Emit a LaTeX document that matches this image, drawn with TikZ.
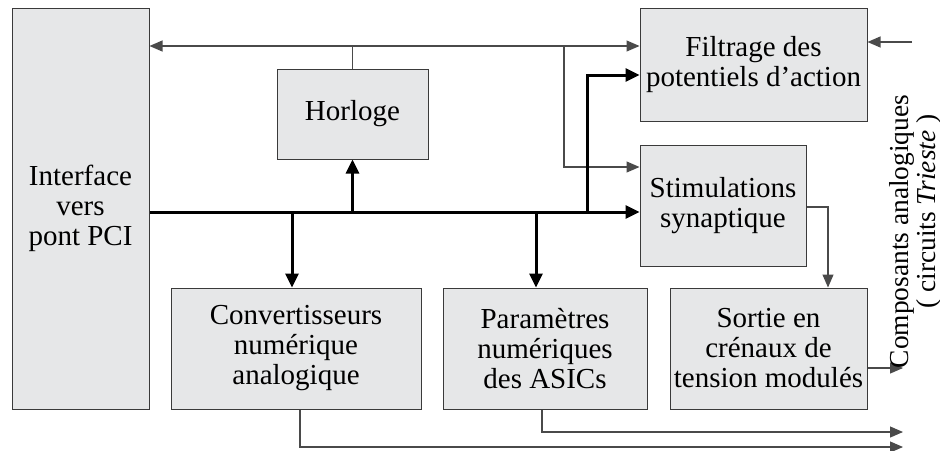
\documentclass[tikz,border=0pt]{standalone}
\usepackage{fontspec}
\setmainfont{Liberation Serif}
\usepackage{tikz}
\usetikzlibrary{arrows.meta}
\pgfdeclarelayer{edgelayer}
\pgfdeclarelayer{nodelayer}
\pgfsetlayers{edgelayer,nodelayer,main}
\definecolor{boxfill}{HTML}{E6E7E8}
\definecolor{boxline}{HTML}{3A3A3A}
\definecolor{wire}{HTML}{4A4A4A}
\tikzstyle{block}=[rectangle, fill=boxfill, draw=boxline, line width=0.5pt, inner sep=1pt, align=center, font=\fontsize{14.5}{15}\selectfont]
\tikzstyle{side}=[rotate=90, anchor=base, font=\fontsize{13.7}{15}\selectfont]
\tikzstyle{link}=[draw=wire, line width=0.55pt, -{Triangle[length=6.5pt,width=5.5pt]}]
\tikzstyle{bus}=[draw=black, line width=1.5pt, -{Triangle[length=7pt,width=6.5pt]}]

\begin{document}
\begin{tikzpicture}[x=25pt, y=25pt]
				\useasboundingbox (0, 0) rectangle (18.8, -9);
				\begin{pgfonlayer}{nodelayer}
					\node [style=block, minimum width=68.5pt, minimum height=200.5pt] (0) at (1.61, -4.17) {Interface\\vers\\pont PCI};
					\node [style=block, minimum width=75.5pt, minimum height=45pt] (1) at (7.05, -2.28) {Horloge};
					\node [style=block, minimum width=113.5pt, minimum height=56.5pt] (2) at (15.07, -1.29) {Filtrage des\\potentiels d'action};
					\node [style=block, minimum width=83pt, minimum height=60.5pt] (3) at (14.46, -4.11) {Stimulations\\synaptique};
					\node [style=block, minimum width=125pt, minimum height=60.5pt] (4) at (5.92, -6.97) {Convertisseurs\\numérique\\analogique};
					\node [style=block, minimum width=102pt, minimum height=60.5pt] (5) at (10.9, -6.97) {Paramètres\\numériques\\des ASICs};
					\node [style=block, minimum width=98.5pt, minimum height=60.5pt] (6) at (15.37, -6.97) {Sortie en\\crénaux de\\tension modulés};
					\node [style=side] (7) at (18.16, -4.63) {Composants analogiques};
					\node [style=side] (21) at (18.7, -4.23) {( circuits \textit{Trieste} )};
				\end{pgfonlayer}
				\coordinate (8) at (11.28, -0.92);
				\coordinate (9) at (11.28, -3.34);
				\coordinate (10) at (11.74, -4.24);
				\coordinate (11) at (11.74, -1.5);
				\coordinate (12) at (5.84, -4.24);
				\coordinate (13) at (10.72, -4.24);
				\coordinate (14) at (16.56, -4.14);
				\coordinate (15) at (18.06, -7.36);
				\coordinate (16) at (6, -8.94);
				\coordinate (17) at (18.06, -8.94);
				\coordinate (18) at (10.84, -8.64);
				\coordinate (19) at (18.06, -8.64);
				\coordinate (20) at (18.24, -0.84);
				\begin{pgfonlayer}{edgelayer}
					% thin control lines
					\draw [style=link, {Triangle[length=6.5pt,width=5.5pt]}-{Triangle[length=6.5pt,width=5.5pt]}] (0.east |- 8) to (2.west |- 8);
					\draw [draw=wire, line width=0.55pt] (1.north) to (1.north |- 8);
					\draw [style=link] (8) -- (9) -- (3.west |- 9);
					\draw [style=link] (20) to (2.east |- 20);
					\draw [style=link] (3.east |- 14) -- (14) -- (6.north -| 14);
					\draw [style=link] (6.east |- 15) to (15);
					\draw [style=link] (4.south -| 16) -- (16) -- (17);
					\draw [style=link] (5.south -| 18) -- (18) -- (19);
					% data bus
					\draw [style=bus] (0.east |- 10) to (3.west |- 10);
					\draw [style=bus] (1.south |- 10) to (1.south);
					\draw [style=bus] (10) -- (11) -- (2.west |- 11);
					\draw [style=bus] (12) to (4.north -| 12);
					\draw [style=bus] (13) to (5.north -| 13);
				\end{pgfonlayer}
			\end{tikzpicture}
\end{document}
